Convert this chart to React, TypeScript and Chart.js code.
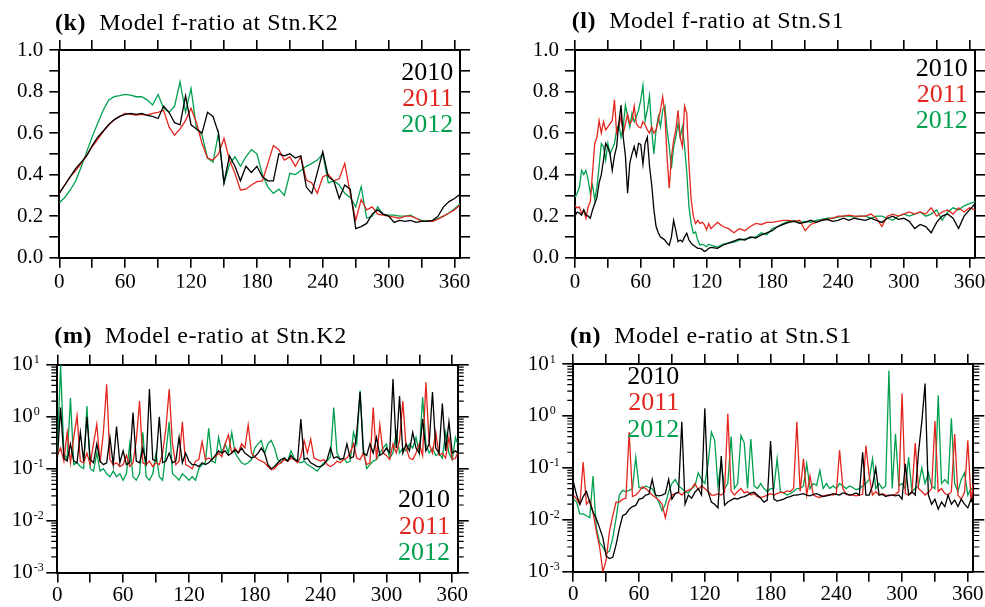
import React, { useEffect, useRef } from 'react';
import { Chart, registerables } from 'chart.js';

Chart.register(...registerables);

const FONT = '"Liberation Serif", "Times New Roman", serif';
const C2010 = '#000000';
const C2011 = '#e3261d';
const C2012 = '#00a04f';
const YEARS = ['2010', '2011', '2012'];

// ---------------- tick definitions ----------------
const X_TICKS = [0, 30, 60, 90, 120, 150, 180, 210, 240, 270, 300, 330, 360];
const F_TICKS = [0, 0.1, 0.2, 0.3, 0.4, 0.5, 0.6, 0.7, 0.8, 0.9, 1.0];
const LOG_EXPS = [-3, -2, -1, 0, 1];
const MINOR_MULTS = [2, 3, 4, 5, 6, 7, 8, 9];

// ---------------- (k) f-ratio at K2 ----------------
const K2_F_DAYS = [0, 5, 10, 15, 20, 25, 30, 35, 40, 45, 50, 55, 60, 65, 70, 75, 80, 85, 90, 95, 100, 105, 110, 115, 120, 125, 130, 135, 140, 145, 150, 155, 160, 165, 170, 175, 180, 185, 190, 195, 200, 205, 210, 215, 220, 225, 230, 235, 240, 245, 250, 255, 260, 265, 270, 275, 280, 285, 290, 295, 300, 305, 310, 315, 320, 325, 330, 335, 340, 345, 350, 355, 360, 365];
const K2_F_2010 = [0.31, 0.35, 0.39, 0.43, 0.46, 0.49, 0.54, 0.58, 0.61, 0.64,
  0.665, 0.68, 0.69, 0.695, 0.69, 0.695, 0.685, 0.68, 0.67, 0.73,
  0.70, 0.65, 0.64, 0.78, 0.64, 0.62, 0.60, 0.70, 0.68, 0.60,
  0.36, 0.49, 0.44, 0.37, 0.44, 0.41, 0.44, 0.39, 0.37, 0.37,
  0.50, 0.49, 0.50, 0.48, 0.49, 0.34, 0.31, 0.41, 0.51, 0.39,
  0.37, 0.285, 0.35, 0.33, 0.14, 0.15, 0.165, 0.21, 0.23, 0.21,
  0.20, 0.17, 0.18, 0.175, 0.18, 0.17, 0.175, 0.175, 0.18, 0.20,
  0.245, 0.27, 0.285, 0.305];
const K2_F_2011 = [0.31, 0.35, 0.39, 0.42, 0.454, 0.495, 0.535, 0.57, 0.607, 0.64,
  0.663, 0.68, 0.695, 0.69, 0.687, 0.69, 0.687, 0.695, 0.70, 0.71,
  0.63, 0.59, 0.62, 0.66, 0.72, 0.65, 0.55, 0.48, 0.47, 0.50,
  0.575, 0.47, 0.406, 0.326, 0.33, 0.35, 0.366, 0.37, 0.454, 0.54,
  0.52, 0.47, 0.485, 0.44, 0.486, 0.374, 0.36, 0.31, 0.39, 0.40,
  0.37, 0.38, 0.454, 0.31, 0.18, 0.28, 0.23, 0.245, 0.21, 0.205,
  0.20, 0.195, 0.19, 0.20, 0.20, 0.19, 0.175, 0.175, 0.175, 0.185,
  0.20, 0.215, 0.23, 0.254];
const K2_F_2012 = [0.265, 0.29, 0.326, 0.37, 0.438, 0.51, 0.583, 0.647, 0.71, 0.76,
  0.775, 0.78, 0.786, 0.783, 0.775, 0.775, 0.76, 0.735, 0.786, 0.72,
  0.70, 0.73, 0.847, 0.70, 0.815, 0.62, 0.59, 0.48, 0.46, 0.60,
  0.358, 0.45, 0.486, 0.44, 0.486, 0.52, 0.50, 0.40, 0.34, 0.31,
  0.33, 0.30, 0.406, 0.40, 0.42, 0.44, 0.454, 0.47, 0.50, 0.36,
  0.37, 0.35, 0.31, 0.29, 0.245, 0.342, 0.19, 0.20, 0.245, 0.21,
  0.205, 0.205, 0.20, 0.20, 0.205, 0.19, 0.18, 0.178, 0.178, 0.19,
  0.20, 0.215, 0.235, 0.26];

// ---------------- (l) f-ratio at S1 ----------------
const S1_F_DAYS = [0, 2, 4, 6, 8, 10, 12, 14, 16, 18, 20, 22, 24, 26, 28, 30, 32, 34, 36, 38,
  40, 42, 44, 46, 48, 50, 52, 54, 56, 58, 60, 62, 64, 66, 68, 70, 72, 74, 76, 78,
  80, 82, 84, 86, 88, 90, 92, 94, 96, 98, 100, 102, 104, 106, 108, 110, 112, 114, 116, 118,
  120, 122, 124,
  130, 135, 140, 145, 150, 155, 160, 165, 170, 175, 180, 185, 190, 195, 200, 205, 210, 215, 220, 225,
  230, 235, 240, 245, 250, 255, 260, 265, 270, 275, 280, 285, 290, 295, 300, 305, 310, 315, 320, 325,
  330, 335, 340, 345, 350, 355, 360, 365];
const S1_F_2010 = [0.20, 0.22, 0.215, 0.205, 0.23, 0.205, 0.20, 0.19, 0.23, 0.26,
  0.29, 0.36, 0.40, 0.47, 0.55, 0.53, 0.50, 0.42, 0.49, 0.535,
  0.65, 0.735, 0.58, 0.49, 0.31, 0.455, 0.50, 0.535, 0.49, 0.55,
  0.545, 0.45, 0.55, 0.58, 0.44, 0.35, 0.23, 0.15, 0.12, 0.10,
  0.093, 0.085, 0.07, 0.06, 0.10, 0.18, 0.13, 0.077, 0.085, 0.077,
  0.10, 0.117, 0.085, 0.07, 0.06, 0.053, 0.045, 0.045, 0.04, 0.03,
  0.035, 0.045, 0.05,
  0.045, 0.06, 0.07, 0.08, 0.09, 0.085, 0.10, 0.095, 0.11, 0.12,
  0.13, 0.15, 0.16, 0.17, 0.175, 0.165, 0.17, 0.18, 0.17, 0.18,
  0.185, 0.175, 0.18, 0.19, 0.18, 0.19, 0.185, 0.18, 0.19, 0.18,
  0.17, 0.19, 0.20, 0.185, 0.19, 0.175, 0.14, 0.16, 0.15, 0.12,
  0.17, 0.20, 0.21, 0.19, 0.14, 0.20, 0.23, 0.26];
const S1_F_2011 = [0.25, 0.24, 0.245, 0.21, 0.23, 0.19, 0.245, 0.27, 0.41, 0.55,
  0.58, 0.66, 0.60, 0.655, 0.615, 0.63, 0.645, 0.66, 0.76, 0.60,
  0.63, 0.68, 0.60, 0.645, 0.69, 0.645, 0.66, 0.73, 0.645, 0.63,
  0.625, 0.655, 0.64, 0.615, 0.60, 0.63, 0.60, 0.615, 0.66, 0.71,
  0.775, 0.695, 0.485, 0.335, 0.485, 0.565, 0.615, 0.71, 0.58, 0.535,
  0.73, 0.695, 0.45, 0.28, 0.20, 0.165, 0.18, 0.165, 0.17, 0.16,
  0.135, 0.165, 0.14,
  0.17, 0.15, 0.14, 0.12, 0.14, 0.13, 0.15, 0.165, 0.16, 0.17,
  0.17, 0.175, 0.18, 0.18, 0.175, 0.18, 0.13, 0.16, 0.17, 0.18,
  0.185, 0.19, 0.20, 0.20, 0.205, 0.20, 0.20, 0.20, 0.21, 0.19,
  0.15, 0.20, 0.21, 0.20, 0.21, 0.22, 0.21, 0.22, 0.21, 0.24,
  0.20, 0.22, 0.23, 0.21, 0.24, 0.22, 0.24, 0.23];
const S1_F_2012 = [0.29, 0.31, 0.34, 0.42, 0.40, 0.42, 0.375, 0.31, 0.35, 0.28,
  0.34, 0.44, 0.55, 0.535, 0.47, 0.55, 0.50, 0.525, 0.55, 0.615,
  0.645, 0.58, 0.63, 0.735, 0.68, 0.63, 0.695, 0.655, 0.68, 0.71,
  0.76, 0.83, 0.66, 0.71, 0.78, 0.615, 0.50, 0.615, 0.68, 0.63,
  0.71, 0.73, 0.615, 0.535, 0.43, 0.535, 0.58, 0.645, 0.58, 0.63,
  0.535, 0.41, 0.245, 0.165, 0.117, 0.125, 0.085, 0.06, 0.065, 0.06,
  0.053, 0.065, 0.06,
  0.05, 0.065, 0.07, 0.075, 0.085, 0.09, 0.095, 0.10, 0.12, 0.11,
  0.14, 0.15, 0.165, 0.175, 0.18, 0.17, 0.175, 0.17, 0.18, 0.185,
  0.19, 0.19, 0.195, 0.20, 0.20, 0.195, 0.20, 0.20, 0.19, 0.20,
  0.20, 0.19, 0.18, 0.20, 0.21, 0.20, 0.21, 0.22, 0.20, 0.21,
  0.23, 0.18, 0.22, 0.24, 0.23, 0.25, 0.26, 0.27];

// ---------------- (m),(n) e-ratio days ----------------
const E_DAYS = [0, 3, 6, 9, 12, 15, 18, 21, 24, 27, 30, 33, 36, 39, 42, 45, 48, 51, 54, 57,
  60, 63, 66, 69, 72, 75, 78, 81, 84, 87, 90, 93, 96, 99, 102, 105, 108, 111, 114, 117,
  120, 123, 126, 129, 132, 135, 138, 141, 144, 147, 150, 153, 156, 159, 162, 165, 168, 171, 174, 177,
  180, 183, 186, 189, 192, 195, 198, 201, 204, 207, 210, 213, 216, 219, 222, 225, 228, 231, 234, 237,
  240, 243, 246, 249, 252, 255, 258, 261, 264, 267, 270, 273, 276, 279, 282, 285, 288, 291, 294, 297,
  300, 303, 306, 309, 312, 315, 318, 321, 324, 327, 330, 333, 336, 339, 342, 345, 348, 351, 354, 357,
  360, 363, 365];

// ---------------- (m) e-ratio at K2 ----------------
const K2_E_2010 = [0.15, 1.5, 0.16, 0.14, 0.3, 0.14, 0.13, 0.5, 0.14, 1.0,
  0.15, 0.13, 0.3, 0.14, 0.12, 0.13, 0.4, 0.12, 0.65, 0.13,
  0.22, 0.12, 0.13, 1.2, 0.14, 0.13, 0.25, 0.13, 3.4, 0.15,
  0.14, 1.0, 0.13, 0.14, 0.2, 0.13, 0.14, 0.4, 0.13, 0.2,
  0.14, 0.12, 0.12, 0.11, 0.13, 0.12, 0.13, 0.15, 0.18, 0.22,
  0.2, 0.22, 0.18, 0.2, 0.23, 0.2, 0.25, 0.2, 0.18, 0.16,
  0.17, 0.2, 0.25, 0.2, 0.12, 0.1, 0.11, 0.13, 0.15, 0.16,
  0.14, 0.18, 0.15, 0.14, 0.9, 0.15, 0.16, 0.13, 0.12, 0.11,
  0.11, 0.12, 0.15, 0.25, 0.16, 0.17, 0.15, 0.16, 0.3, 0.16,
  0.17, 0.5, 3.0, 0.2, 0.18, 0.3, 0.2, 0.4, 0.18, 0.2,
  0.25, 0.2, 5.3, 0.25, 2.5, 0.2, 0.3, 0.22, 0.5, 0.25,
  0.2, 0.9, 0.22, 0.3, 3.0, 0.25, 0.2, 1.8, 0.22, 0.8,
  0.2, 0.22, 0.2];
const K2_E_2011 = [0.18, 0.25, 0.14, 0.5, 0.13, 0.4, 1.05, 0.14, 0.13, 0.2,
  0.12, 0.3, 0.72, 0.13, 0.5, 4.2, 0.15, 0.12, 0.13, 0.11,
  0.12, 0.18, 0.11, 0.13, 0.35, 2.0, 0.13, 0.12, 0.14, 0.11,
  0.13, 0.12, 0.2, 0.6, 3.4, 0.3, 0.12, 0.14, 0.8, 0.12,
  0.11, 0.1, 0.14, 0.15, 0.33, 0.15, 0.16, 0.15, 0.17, 0.2,
  0.17, 0.3, 0.45, 0.2, 0.25, 0.2, 0.3, 0.25, 0.7, 0.2,
  0.17, 0.15, 0.14, 0.13, 0.11, 0.095, 0.1, 0.12, 0.13, 0.15,
  0.14, 0.16, 0.15, 0.13, 0.17, 0.35, 0.2, 0.37, 0.16, 0.15,
  0.14, 0.15, 0.12, 0.11, 0.12, 0.14, 0.13, 0.15, 0.16, 0.2,
  0.3, 0.16, 0.15, 0.2, 0.12, 0.13, 1.5, 0.15, 0.7, 0.2,
  0.18, 0.15, 0.3, 0.2, 0.35, 2.0, 0.25, 0.16, 0.15, 0.2,
  0.3, 0.18, 4.6, 0.3, 0.2, 0.5, 0.18, 0.2, 0.16, 0.4,
  0.15, 0.16, 0.2];
const K2_E_2012 = [0.2, 10, 0.2, 0.15, 2.3, 0.12, 0.13, 0.11, 0.1, 1.6,
  0.1, 0.09, 0.2, 0.09, 0.1, 0.08, 0.07, 0.09, 0.07, 0.08,
  0.06, 0.08, 0.3, 0.07, 0.06, 0.08, 0.5, 0.07, 0.06, 0.08,
  0.2, 0.07, 0.06, 0.2, 0.8, 0.08, 0.07, 0.06, 0.08, 0.07,
  0.06, 0.07, 0.06, 0.1, 0.12, 0.13, 0.6, 0.14, 0.13, 0.4,
  0.2, 0.3, 0.2, 0.5, 0.2, 0.16, 0.13, 0.12, 0.13, 0.15,
  0.25, 0.3, 0.35, 0.2, 0.3, 0.35, 0.25, 0.15, 0.13, 0.16,
  0.14, 0.22, 0.16, 0.14, 0.13, 0.14, 0.12, 0.11, 0.1, 0.09,
  0.11, 0.13, 0.14, 0.17, 1.5, 0.2, 0.15, 0.16, 0.13, 0.14,
  0.5, 0.3, 3.2, 0.25, 0.1, 0.12, 0.14, 0.15, 0.2, 0.25,
  0.3, 0.16, 0.2, 0.5, 0.2, 0.25, 0.22, 0.3, 0.25, 0.4,
  0.2, 2.4, 0.3, 0.2, 0.25, 0.18, 0.2, 0.16, 0.5, 0.2,
  0.15, 0.4, 0.3];

// ---------------- (n) e-ratio at S1 ----------------
const S1_E_2010 = [0.055, 0.03, 0.02, 0.028, 0.035, 0.022, 0.014, 0.0105, 0.007, 0.0045,
  0.002, 0.0018, 0.0019, 0.0033, 0.0067, 0.012, 0.013, 0.016, 0.018, 0.019,
  0.025, 0.026, 0.03, 0.031, 0.06, 0.03, 0.029, 0.03, 0.032, 0.06,
  0.025, 0.032, 0.034, 0.77, 0.02, 0.03, 0.026, 0.034, 0.04, 0.03,
  1.4, 0.035, 0.022, 0.02, 0.017, 0.17, 0.019, 0.022, 0.024, 0.026,
  0.025, 0.027, 0.028, 0.03, 0.033, 0.034, 0.03, 0.026, 0.022, 0.024,
  0.33, 0.025, 0.023, 0.024, 0.025, 0.027, 0.028, 0.03, 0.03, 0.031,
  0.032, 0.03, 0.029, 0.031, 0.032, 0.03, 0.028, 0.029, 0.03, 0.032,
  0.031, 0.03, 0.033, 0.032, 0.03, 0.031, 0.033, 0.03, 0.2, 0.03,
  0.03, 0.045, 0.1, 0.03, 0.031, 0.028, 0.03, 0.03, 0.029, 0.03,
  0.025, 0.12, 0.03, 0.035, 0.03, 0.2, 0.77, 4.2, 0.03, 0.02,
  0.025, 0.016, 0.022, 0.018, 0.03, 0.02, 0.024, 0.018, 0.025, 0.02,
  0.017, 0.025, 0.02];
const S1_E_2011 = [0.03, 0.025, 0.02, 0.13, 0.02, 0.024, 0.014, 0.006, 0.003, 0.001,
  0.0017, 0.006, 0.012, 0.022, 0.022, 0.025, 0.026, 0.49, 0.028, 0.03,
  0.035, 0.043, 0.04, 0.035, 0.03, 0.027, 0.024, 0.02, 0.011, 0.022,
  0.03, 0.032, 0.034, 0.03, 0.035, 0.037, 0.04, 0.05, 0.038, 0.045,
  0.04, 0.035, 0.03, 0.03, 0.032, 0.03, 0.034, 1.1, 0.036, 0.03,
  0.035, 0.04, 0.033, 0.035, 0.03, 0.032, 0.028, 0.027, 0.028, 0.03,
  0.032, 0.03, 0.032, 0.034, 0.033, 0.036, 0.035, 0.04, 0.77, 0.035,
  0.15, 0.03, 0.07, 0.03, 0.028, 0.027, 0.029, 0.03, 0.031, 0.03,
  0.032, 0.22, 0.04, 0.031, 0.03, 0.03, 0.029, 0.03, 0.031, 0.27,
  0.07, 0.03, 0.035, 0.03, 0.032, 0.03, 0.029, 0.03, 0.031, 0.035,
  2.7, 0.032, 0.03, 0.033, 0.3, 0.04, 0.035, 0.03, 0.034, 0.04,
  0.8, 0.035, 0.04, 0.032, 0.03, 0.035, 0.45, 0.03, 0.025, 0.034,
  0.34, 0.022, 0.05];
const S1_E_2012 = [0.025, 0.022, 0.013, 0.013, 0.012, 0.011, 0.07, 0.007, 0.0037, 0.003,
  0.0023, 0.0025, 0.0045, 0.0105, 0.03, 0.037, 0.035, 0.037, 0.04, 0.16,
  0.042, 0.04, 0.045, 0.042, 0.04, 0.03, 0.022, 0.015, 0.02, 0.035,
  0.05, 0.06, 0.045, 0.04, 0.035, 0.033, 0.04, 0.045, 0.08, 0.06,
  0.05, 0.12, 0.49, 0.34, 0.045, 0.13, 0.04, 0.05, 0.4, 0.04,
  0.05, 0.42, 0.3, 0.04, 0.36, 0.045, 0.04, 0.05, 0.04, 0.035,
  0.04, 0.04, 0.15, 0.035, 0.033, 0.03, 0.032, 0.035, 0.04, 0.04,
  0.045, 0.12, 0.04, 0.05, 0.046, 0.09, 0.04, 0.05, 0.04, 0.045,
  0.04, 0.05, 0.045, 0.04, 0.045, 0.042, 0.038, 0.04, 0.045, 0.05,
  0.06, 0.15, 0.04, 0.05, 0.04, 0.045, 7.5, 0.04, 0.45, 0.045,
  0.05, 0.04, 0.16, 0.035, 0.04, 0.045, 0.1, 0.05, 0.08, 0.045,
  0.04, 2.5, 0.05, 0.06, 0.05, 0.9, 0.05, 0.035, 0.06, 0.08,
  0.03, 0.04, 0.035];

// ---------------- panel layout ----------------
type Rect = { l: number; r: number; t: number; b: number };
type Panel = {
  key: string;
  tag: string;
  title: string;
  log: boolean;
  days: number[];
  series: number[][];
  area: Rect;
  canvas: { x: number; y: number; w: number; h: number };
  xPad: number;
  titleX: number;
  titleBase: number;
  legendRight: number;
  legendBase: number;
  legendStep: number;
};

const PANELS: Panel[] = [
  {
    key: 'k', tag: '(k)', title: 'Model f-ratio at Stn.K2', log: false,
    days: K2_F_DAYS, series: [K2_F_2010, K2_F_2011, K2_F_2012],
    area: { l: 59.3, r: 460, t: 50, b: 257.7 }, canvas: { x: 0, y: 30, w: 490, h: 275 }, xPad: 2,
    titleX: 55, titleBase: 30, legendRight: 453.3, legendBase: 80.7, legendStep: 25.8,
  },
  {
    key: 'l', tag: '(l)', title: 'Model f-ratio at Stn.S1', log: false,
    days: S1_F_DAYS, series: [S1_F_2010, S1_F_2011, S1_F_2012],
    area: { l: 575, r: 975, t: 50, b: 257.7 }, canvas: { x: 500, y: 30, w: 485, h: 275 }, xPad: 2,
    titleX: 571.7, titleBase: 28.5, legendRight: 967.7, legendBase: 76.7, legendStep: 26,
  },
  {
    key: 'm', tag: '(m)', title: 'Model e-ratio at Stn.K2', log: true,
    days: E_DAYS, series: [K2_E_2010, K2_E_2011, K2_E_2012],
    area: { l: 57.3, r: 457.7, t: 364.8, b: 572.6 }, canvas: { x: 0, y: 340, w: 490, h: 267 }, xPad: 0,
    titleX: 54.3, titleBase: 342.7, legendRight: 450, legendBase: 508.3, legendStep: 26.2,
  },
  {
    key: 'n', tag: '(n)', title: 'Model e-ratio at Stn.S1', log: true,
    days: E_DAYS, series: [S1_E_2010, S1_E_2011, S1_E_2012],
    area: { l: 573.3, r: 973.3, t: 364, b: 571.8 }, canvas: { x: 500, y: 340, w: 485, h: 267 }, xPad: 0,
    titleX: 570, titleBase: 342.7, legendRight: 679.3, legendBase: 385, legendStep: 26.2,
  },
];

const AX = { left: 50, right: 10, top: 14, bottom: 30 };
const COLORS = [C2010, C2011, C2012];

const logAxisPlugin = {
  id: 'logAxisDecor',
  afterDraw(chart: any) {
    const { ctx, chartArea: a } = chart;
    const ys = chart.scales.y;
    ctx.save();
    ctx.strokeStyle = '#000';
    ctx.lineWidth = 1.2;
    ctx.beginPath();
    for (const e of LOG_EXPS.slice(0, LOG_EXPS.length - 1)) {
      for (const m of MINOR_MULTS) {
        const py = ys.getPixelForValue(m * Math.pow(10, e));
        ctx.moveTo(a.left - 6, py);
        ctx.lineTo(a.left, py);
        ctx.moveTo(a.right, py);
        ctx.lineTo(a.right + 6, py);
      }
    }
    ctx.stroke();
    ctx.fillStyle = '#000';
    ctx.textAlign = 'left';
    ctx.textBaseline = 'alphabetic';
    for (const e of LOG_EXPS) {
      const py = ys.getPixelForValue(Math.pow(10, e));
      const x0 = a.left - 45.5;
      ctx.font = `21px ${FONT}`;
      ctx.fillText('10', x0, py + 5.5);
      const w = ctx.measureText('10').width;
      ctx.font = `12px ${FONT}`;
      ctx.fillText(String(e), x0 + w + 1, py - 1.5);
    }
    ctx.restore();
  },
};

function setTicks(values: number[]) {
  return (scale: any) => {
    scale.ticks = values.map((v) => ({ value: v }));
  };
}

function makeConfig(p: Panel): any {
  const padding = {
    left: p.area.l - p.canvas.x - AX.left,
    right: p.canvas.x + p.canvas.w - p.area.r - AX.right,
    top: p.area.t - p.canvas.y - AX.top,
    bottom: p.canvas.y + p.canvas.h - p.area.b - AX.bottom,
  };
  const grid = { display: true, drawOnChartArea: false, drawTicks: true, tickLength: 10, color: '#000', lineWidth: 1.6 };
  const border = { display: true, color: '#000', width: 2 };
  const tickFont = { family: FONT, size: 21 };
  const yTicks = p.log ? LOG_EXPS.map((e) => Math.pow(10, e)) : F_TICKS;
  const yType = p.log ? 'logarithmic' : 'linear';
  const yMin = p.log ? 0.001 : 0;
  const yMax = p.log ? 10 : 1;
  const yGrid = { ...grid, tickLength: p.log ? 11 : 10 };

  const datasets = p.series.map((vals, i) => ({
    label: YEARS[i],
    data: p.days.map((d, j) => ({ x: d, y: vals[j] })),
    borderColor: COLORS[i],
    backgroundColor: COLORS[i],
    borderWidth: 1.3,
    pointRadius: 0,
    tension: 0,
    fill: false,
  }));

  return {
    type: 'line',
    data: { datasets },
    plugins: p.log ? [logAxisPlugin] : [],
    options: {
      responsive: false,
      animation: false,
      devicePixelRatio: 1,
      events: [],
      layout: { padding },
      plugins: { legend: { display: false }, tooltip: { enabled: false }, title: { display: false } },
      scales: {
        x: {
          type: 'linear', position: 'bottom', min: 0, max: 365,
          afterBuildTicks: setTicks(X_TICKS),
          afterFit: (s: any) => { s.height = AX.bottom; s.paddingLeft = 0; s.paddingRight = 0; },
          grid, border,
          ticks: {
            autoSkip: false, maxRotation: 0, minRotation: 0, padding: p.xPad, color: '#000', font: tickFont,
            callback: (v: number) => (v % 60 === 0 ? String(v) : ''),
          },
        },
        x2: {
          type: 'linear', position: 'top', min: 0, max: 365,
          afterBuildTicks: setTicks(X_TICKS),
          afterFit: (s: any) => { s.height = AX.top; s.paddingLeft = 0; s.paddingRight = 0; },
          grid, border,
          ticks: { display: false },
        },
        y: {
          type: yType, position: 'left', min: yMin, max: yMax,
          afterBuildTicks: setTicks(yTicks),
          afterFit: (s: any) => { s.width = AX.left; s.paddingTop = 0; s.paddingBottom = 0; },
          grid: yGrid, border,
          ticks: {
            autoSkip: false, padding: 6, color: '#000', font: tickFont,
            callback: (v: number) => (p.log ? '' : (Math.round(v * 10) % 2 === 0 ? v.toFixed(1) : '')),
          },
        },
        y2: {
          type: yType, position: 'right', min: yMin, max: yMax,
          afterBuildTicks: setTicks(yTicks),
          afterFit: (s: any) => { s.width = AX.right; s.paddingTop = 0; s.paddingBottom = 0; },
          grid: yGrid, border,
          ticks: { display: false },
        },
      },
    },
  };
}

function PanelChart({ p }: { p: Panel }) {
  const ref = useRef<HTMLCanvasElement | null>(null);
  useEffect(() => {
    const c = ref.current;
    if (!c) return;
    const chart = new Chart(c, makeConfig(p));
    return () => chart.destroy();
  }, [p]);
  return (
    <canvas
      ref={ref}
      width={p.canvas.w}
      height={p.canvas.h}
      style={{ position: 'absolute', left: p.canvas.x, top: p.canvas.y, width: p.canvas.w, height: p.canvas.h }}
    />
  );
}

const TITLE_SIZE = 24;
const LEGEND_SIZE = 26;

function Title({ p }: { p: Panel }) {
  const base = (TITLE_SIZE - TITLE_SIZE * 1.107) / 2 + TITLE_SIZE * 0.891;
  return (
    <div
      style={{
        position: 'absolute', left: p.titleX, top: p.titleBase - base, whiteSpace: 'nowrap',
        fontFamily: FONT, fontSize: TITLE_SIZE, lineHeight: `${TITLE_SIZE}px`, color: '#000', letterSpacing: 0.6,
      }}
    >
      <span style={{ fontWeight: 'bold' }}>{p.tag}</span>
      <span style={{ marginLeft: 13 }}>{p.title}</span>
    </div>
  );
}

function Legend({ p }: { p: Panel }) {
  const lh = p.legendStep;
  const base = (lh - LEGEND_SIZE * 1.107) / 2 + LEGEND_SIZE * 0.891;
  const w = 80;
  return (
    <div
      style={{
        position: 'absolute', left: p.legendRight - w, top: p.legendBase - base, width: w, textAlign: 'right',
        fontFamily: FONT, fontSize: LEGEND_SIZE, lineHeight: `${lh}px`, whiteSpace: 'nowrap',
      }}
    >
      {YEARS.map((y, i) => (
        <div key={y} style={{ color: COLORS[i] }}>{y}</div>
      ))}
    </div>
  );
}

export default function App() {
  useEffect(() => {
    document.body.style.margin = '0';
  }, []);
  return (
    <div style={{ position: 'absolute', left: 0, top: 0, width: 985, height: 607, background: '#fff', overflow: 'hidden' }}>
      {PANELS.map((p) => (
        <React.Fragment key={p.key}>
          <PanelChart p={p} />
          <Title p={p} />
          <Legend p={p} />
        </React.Fragment>
      ))}
    </div>
  );
}
